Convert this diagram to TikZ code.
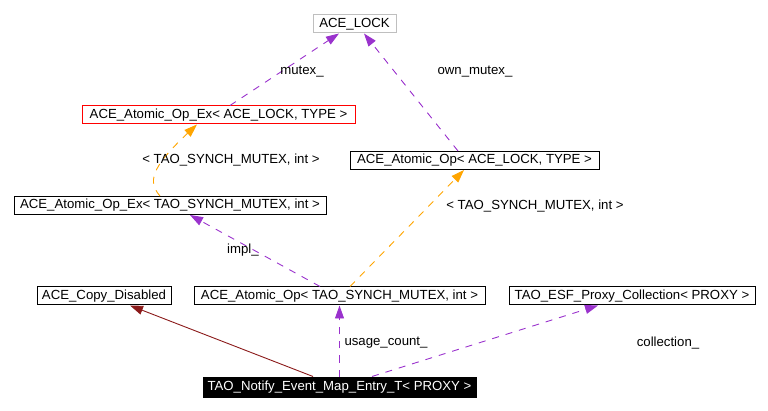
\documentclass[tikz,border=0pt]{standalone}
\usepackage{fontspec}
\setmainfont{Liberation Sans}
\usetikzlibrary{arrows.meta}
\definecolor{purp}{HTML}{9A32CD}
\definecolor{orng}{HTML}{FFA500}
\definecolor{dred}{HTML}{8B1A1A}
\definecolor{gbox}{HTML}{BFBFBF}
\begin{document}
\begin{tikzpicture}[x=1pt,y=-1pt,
  font=\fontsize{13.2}{15}\selectfont,
  box/.style={draw=black, line width=1pt, inner sep=0pt, minimum height=18pt, anchor=center},
  lbl/.style={inner sep=0pt, anchor=center},
  tip/.style={-{Triangle[length=13pt,width=9pt]}},
  usedep/.style={tip, draw=purp, line width=0.9pt, dash pattern=on 7pt off 7pt},
  instdep/.style={tip, draw=orng, line width=0.9pt, dash pattern=on 7pt off 7pt},
  inhdep/.style={tip, draw=dred, line width=0.9pt}]
\useasboundingbox (0,0) rectangle (768,411);

\node[box, draw=gbox, minimum width=83pt] (lock) at (354.5,24) {ACE\_LOCK};
\node[box, draw=red, minimum width=273pt] (opexlock) at (218.5,115) {ACE\_Atomic\_Op\_Ex< ACE\_LOCK, TYPE >};
\node[box, minimum width=249pt] (oplock) at (474.5,160.5) {ACE\_Atomic\_Op< ACE\_LOCK, TYPE >};
\node[box, minimum width=312pt] (opextao) at (170,205.5) {ACE\_Atomic\_Op\_Ex< TAO\_SYNCH\_MUTEX, int >};
\node[box, minimum width=134pt] (copy) at (104,296) {ACE\_Copy\_Disabled};
\node[box, minimum width=291pt] (optao) at (339.5,296) {ACE\_Atomic\_Op< TAO\_SYNCH\_MUTEX, int >};
\node[box, minimum width=246pt] (esf) at (632,296) {TAO\_ESF\_Proxy\_Collection< PROXY >};
\node[box, fill=black, text=white, minimum width=273pt, minimum height=20pt] (notify) at (339.5,387) {TAO\_Notify\_Event\_Map\_Entry\_T< PROXY >};

\draw[usedep] ([xshift=11.5pt]opexlock.north) -- ([xshift=-15.5pt]lock.south);
\draw[usedep] ([xshift=-16.5pt]oplock.north) -- ([xshift=9.5pt]lock.south);
\draw[instdep] ([xshift=-10pt]opextao.north) .. controls +(-12,-14) and +(-47,44) .. ([xshift=-21.5pt]opexlock.south);
\draw[instdep] ([xshift=10.5pt]optao.north) -- ([xshift=-10.5pt]oplock.south);
\draw[usedep] ([xshift=-19.5pt]optao.north) -- ([xshift=20pt]opextao.south);
\draw[inhdep] ([xshift=-26.5pt]notify.north) -- ([xshift=26pt]copy.south);
\draw[usedep] (notify.north) -- (optao.south);
\draw[usedep] ([xshift=32.5pt]notify.north) -- ([xshift=-34pt]esf.south);

\node[lbl] (l1) at (302,72) {mutex\_};
\node[lbl] (l2) at (475,72) {own\_mutex\_};
\node[lbl] (l3) at (231,160) {< TAO\_SYNCH\_MUTEX, int >};
\node[lbl] (l4) at (535,206) {< TAO\_SYNCH\_MUTEX, int >};
\node[lbl] (l5) at (243,250) {impl\_};
\node[lbl] (l6) at (386,343) {usage\_count\_};
\node[lbl] (l7) at (668,343) {collection\_};
\end{tikzpicture}
\end{document}
